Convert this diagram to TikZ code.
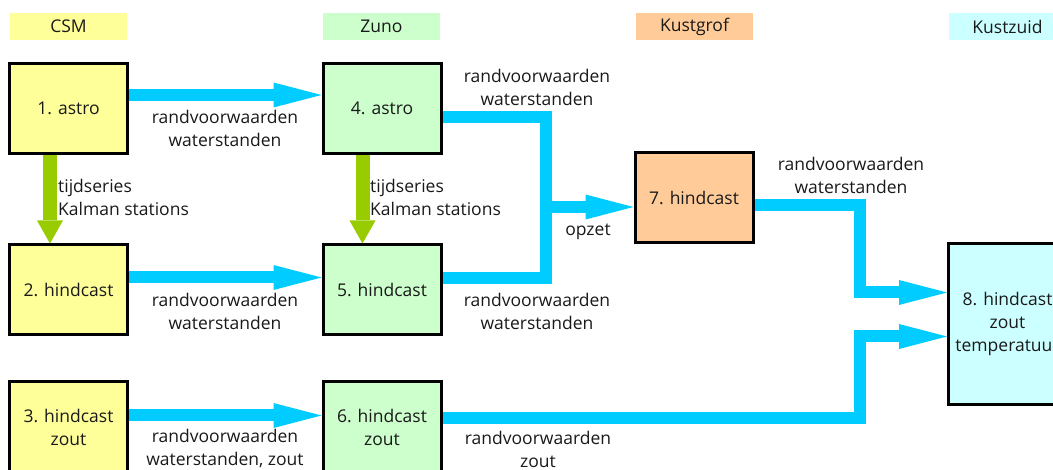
\documentclass[tikz,border=0pt]{standalone}
\usepackage{fontspec}
\setmainfont{Open Sans}
\usetikzlibrary{arrows.meta}
\definecolor{csm}{HTML}{FFFF99}
\definecolor{zuno}{HTML}{CCFFCC}
\definecolor{grof}{HTML}{FFCC99}
\definecolor{zuid}{HTML}{CCFFFF}
\definecolor{flow}{HTML}{00CCFF}
\definecolor{kal}{HTML}{99CC00}
\pgfdeclarelayer{bg}
\pgfsetlayers{bg,main}
\tikzset{
  txt/.style={font=\fontsize{17.5pt}{23pt}\selectfont, text=black!90, inner sep=0pt},
  hdr/.style={txt, minimum width=117pt, minimum height=27pt},
  boxx/.style={txt, draw=black, line width=3pt, minimum width=118pt, minimum height=90pt, align=center},
  flowline/.style={draw=flow, line width=12pt, line join=miter},
  flowarrow/.style={flowline, -{Triangle[length=48pt,width=25pt,line width=0pt]}},
  kalarrow/.style={draw=kal, line width=14pt, -{Triangle[length=23pt,width=26pt,line width=0pt]}},
  lbl/.style={txt, align=center},
  lbll/.style={txt, align=left}
}
\begin{document}
\begin{tikzpicture}[x=1pt,y=-1pt]
\useasboundingbox (0,0) rectangle (1053,470);
\clip (0,0) rectangle (1053,470);
% headers
\node[hdr, fill=csm]  (h1) at (68.5,26.5) {CSM};
\node[hdr, fill=zuno] (h2) at (381.5,26.5) {Zuno};
\node[hdr, fill=grof] (h3) at (694.5,26.5) {Kustgrof};
\node[hdr, fill=zuid] (h4) at (1007.5,26.5) {Kustzuid};
% boxes
\node[boxx, fill=csm]  (b1) at (68.5,108.5) {1. astro};
\node[boxx, fill=csm]  (b2) at (68.5,290) {2. hindcast};
\node[boxx, fill=csm]  (b3) at (68.5,427) {3. hindcast\\zout};
\node[boxx, fill=zuno] (b4) at (382,108.5) {4. astro};
\node[boxx, fill=zuno] (b5) at (382,290) {5. hindcast};
\node[boxx, fill=zuno] (b6) at (382,427) {6. hindcast\\zout};
\node[boxx, fill=grof] (b7) at (694,198) {7. hindcast};
\node[boxx, fill=zuid, minimum height=161pt] (b8) at (1007.5,324) {8. hindcast\\zout\\temperatuur};
% connectors
\coordinate (j1) at (546,207);
\coordinate (c78) at (860,292.5);
\coordinate (c68) at (860,336.5);
\begin{pgfonlayer}{bg}
\draw[flowarrow] ([yshift=13.5pt]b1.east) -- ([yshift=13.5pt]b4.west);
\draw[flowarrow] ([yshift=12.5pt]b2.east) -- ([yshift=12.5pt]b5.west);
\draw[flowarrow] ([yshift=11.5pt]b3.east) -- ([yshift=11.5pt]b6.west);
\draw[kalarrow] ([xshift=-18.5pt]b1.south) -- ([xshift=-18.5pt]b2.north);
\draw[kalarrow] ([xshift=-19.5pt]b4.south) -- ([xshift=-19.5pt]b5.north);
\draw[flowline] ([yshift=-9pt]b4.east) -| (j1) |- ([yshift=11.5pt]b5.east);
\draw[flowarrow] (j1) -- (j1 -| b7.west);
\draw[flowarrow] ([yshift=-7.5pt]b7.east) -| (c78) -- (c78 -| b8.west);
\draw[flowarrow] ([yshift=9pt]b6.east) -| (c68) -- (c68 -| b8.west);
\end{pgfonlayer}
% labels
\node[lbl] (l14) at (225,128.5) {randvoorwaarden\\waterstanden};
\node[lbl] (l25) at (225,311) {randvoorwaarden\\waterstanden};
\node[lbl] (l36) at (225,448) {randvoorwaarden\\waterstanden, zout};
\node[lbll, anchor=west] (k12) at (58,197.5) {tijdseries\\Kalman stations};
\node[lbll, anchor=west] (k45) at (370,197.5) {tijdseries\\Kalman stations};
\node[lbl] (l47) at (537,87.5) {randvoorwaarden\\waterstanden};
\node[lbl] (l57) at (537,311) {randvoorwaarden\\waterstanden};
\node[lbl] (lop) at (588,232) {opzet};
\node[lbl] (l78) at (851,175.5) {randvoorwaarden\\waterstanden};
\node[lbl] (l68) at (538,449) {randvoorwaarden\\zout};
\end{tikzpicture}
\end{document}
